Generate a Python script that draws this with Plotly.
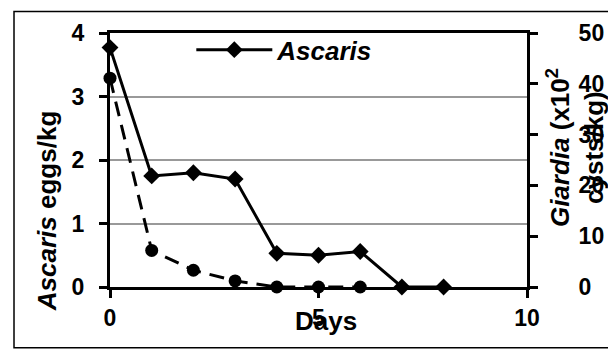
import plotly.graph_objects as go

days = [0, 1, 2, 3, 4, 5, 6, 7, 8]
ascaris = [3.77, 1.75, 1.80, 1.70, 0.53, 0.50, 0.56, 0.0, 0.0]
giardia_days = [0, 1, 2, 3, 4, 5, 6]
giardia = [41.1, 7.2, 3.3, 1.2, 0.0, 0.0, 0.0]

x_ticks = [0, 5, 10]
y_ticks = [0, 1, 2, 3, 4]
y2_ticks = [0, 10, 20, 30, 40, 50]

FONT = "Arial, Liberation Sans, sans-serif"
BLACK = "#000000"
TICK = dict(family=FONT, size=23, weight="bold")
TITLE = dict(family=FONT, size=26, weight="bold")

fig = go.Figure()
fig.add_trace(go.Scatter(
    x=days, y=ascaris, name="<i>Ascaris</i>", mode="lines+markers",
    line=dict(color=BLACK, width=3),
    marker=dict(symbol="diamond", size=13, color=BLACK),
    cliponaxis=False, yaxis="y",
))
fig.add_trace(go.Scatter(
    x=giardia_days, y=giardia, name="Giardia", mode="lines+markers",
    line=dict(color=BLACK, width=3, dash="15px,9px"),
    marker=dict(symbol="circle", size=13, color=BLACK),
    cliponaxis=False, yaxis="y2", showlegend=False,
))

fig.update_layout(
    width=616, height=352,
    margin=dict(l=102, r=97, t=20, b=73),
    paper_bgcolor="white", plot_bgcolor="white",
    font=dict(family=FONT, color=BLACK, size=23, weight="bold"),
    showlegend=True,
    legend=dict(x=0.195, y=0.934, xanchor="left", yanchor="middle",
                bgcolor="rgba(0,0,0,0)", itemwidth=76,
                font=dict(family=FONT, size=26, weight="bold")),
    xaxis=dict(range=[0, 10], tickvals=x_ticks, ticks="outside", ticklen=8,
               tickwidth=3, tickcolor=BLACK, showline=True, linewidth=3,
               linecolor=BLACK, mirror=True, showgrid=False, zeroline=False,
               tickfont=TICK),
    yaxis=dict(range=[0, 4], tickvals=y_ticks, ticks="outside", ticklen=8,
               tickwidth=3, tickcolor=BLACK, showline=True, linewidth=3,
               linecolor=BLACK, showgrid=True, gridcolor="#999999",
               gridwidth=2, zeroline=False, ticklabelstandoff=10,
               tickfont=TICK),
    yaxis2=dict(range=[0, 50], tickvals=y2_ticks, ticks="outside", ticklen=8,
                tickwidth=3, tickcolor=BLACK, showline=True, linewidth=3,
                linecolor=BLACK, overlaying="y", side="right",
                showgrid=False, zeroline=False, ticklabelstandoff=36,
                tickfont=TICK),
)

fig.add_annotation(text="<i>Ascaris</i> eggs/kg", textangle=-90,
                   xref="paper", yref="paper", x=-0.152, y=0.297,
                   xanchor="center", yanchor="middle",
                   showarrow=False, font=TITLE)
fig.add_annotation(text="Days", xref="paper", yref="paper", x=0.519, y=-0.135,
                   xanchor="center", yanchor="middle",
                   showarrow=False, font=TITLE)
fig.add_annotation(text="<i>Giardia</i> (x10<sup>2</sup><br>cysts/kg)", textangle=-90,
                   xref="paper", yref="paper", x=1.117, y=0.55,
                   xanchor="center", yanchor="middle",
                   showarrow=False, font=TITLE)

fig.add_shape(type="rect", xref="paper", yref="paper",
              x0=-0.2302, x1=1.199, y0=-0.2394, y1=1.085,
              line=dict(color=BLACK, width=1.5), layer="below")

fig.write_html("out.html")
